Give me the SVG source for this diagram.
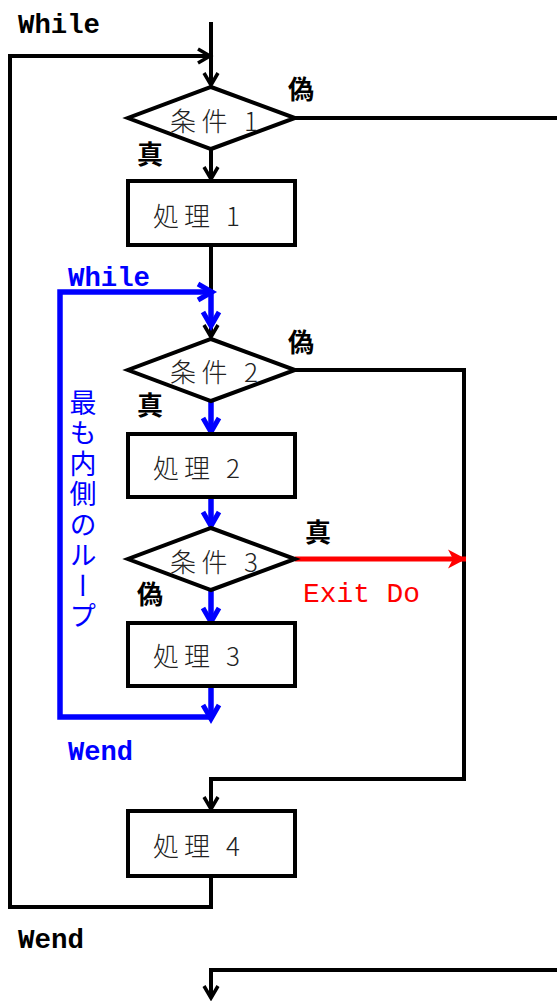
<svg xmlns="http://www.w3.org/2000/svg" width="557" height="1001" viewBox="0 0 557 1001">
  <style>
    .wire { fill: none; stroke: #000; stroke-width: 4; stroke-linejoin: miter; }
    .inner { fill: none; stroke: #0000ff; stroke-width: 5.5; stroke-linejoin: miter; }
    .exit { fill: none; stroke: #ff0000; stroke-width: 5; }
    .shape { fill: #fff; stroke: #000; stroke-width: 4; stroke-linejoin: miter; }
    .label { font-family: "Noto Sans CJK JP", sans-serif; font-size: 26px; font-weight: 300; fill: #222; dominant-baseline: central; }
    .tf { font-family: "Noto Sans CJK JP", sans-serif; font-size: 26px; font-weight: bold; fill: #000; text-anchor: middle; dominant-baseline: central; }
    .kw { font-family: "Liberation Mono", monospace; font-size: 27px; font-weight: bold; }
    .kw-exit { font-family: "Liberation Mono", monospace; font-size: 27px; font-weight: normal; fill: #ff0000; }
  </style>
  <defs>
    <marker id="arrow-black" markerUnits="userSpaceOnUse" markerWidth="20" markerHeight="20" refX="14" refY="9" orient="auto" overflow="visible">
      <path d="M2,2 L14,9 L2,16" fill="none" stroke="#000" stroke-width="3.5"/>
    </marker>
    <marker id="arrow-blue" markerUnits="userSpaceOnUse" markerWidth="22" markerHeight="22" refX="16" refY="10" orient="auto" overflow="visible">
      <path d="M2,2 L16,10 L2,18" fill="none" stroke="#0000ff" stroke-width="5"/>
    </marker>
    <marker id="arrow-red" markerUnits="userSpaceOnUse" markerWidth="22" markerHeight="22" refX="18" refY="10" orient="auto" overflow="visible">
      <path d="M0,0.5 L18,10 L0,19.5 L5,10 Z" fill="#ff0000"/>
    </marker>
  </defs>

  <!-- connectors -->
  <g id="connectors">
    <path class="wire" d="M211,22 V85" marker-end="url(#arrow-black)"/>
    <path class="wire" d="M211,876 V907 H10 V56 H210" marker-end="url(#arrow-black)"/>
    <path class="wire" d="M211,149 V179" marker-end="url(#arrow-black)"/>
    <path class="wire" d="M211,245 V337" marker-end="url(#arrow-black)"/>
    <path class="wire" d="M295,118 H557"/>
    <path class="wire" d="M295,370 H464 V779 H211 V809" marker-end="url(#arrow-black)"/>
    <path class="wire" d="M557,970 H211 V998" marker-end="url(#arrow-black)"/>

    <path class="inner" d="M213,717 H60 V292 H212" marker-end="url(#arrow-blue)"/>
    <path class="inner" d="M211,292 V326" marker-end="url(#arrow-blue)"/>
    <path class="inner" d="M211,401 V432" marker-end="url(#arrow-blue)"/>
    <path class="inner" d="M211,497 V526" marker-end="url(#arrow-blue)"/>
    <path class="inner" d="M211,590 V622" marker-end="url(#arrow-blue)"/>
    <path class="inner" d="M211,686 V719" marker-end="url(#arrow-blue)"/>

    <path class="exit" d="M295,559 H466" marker-end="url(#arrow-red)"/>
  </g>

  <!-- decisions and processes -->
  <g id="cond1">
    <polygon class="shape" points="211,87 295,118 211,149 128,118"/>
    <text class="label" x="170" y="119" textLength="88" lengthAdjust="spacing">条件 1</text>
  </g>
  <g id="proc1">
    <rect class="shape" x="128" y="181" width="167" height="64"/>
    <text class="label" x="153" y="214" textLength="87" lengthAdjust="spacing">処理 1</text>
  </g>
  <g id="cond2">
    <polygon class="shape" points="211,339 295,370 211,401 128,370"/>
    <text class="label" x="170" y="370" textLength="88" lengthAdjust="spacing">条件 2</text>
  </g>
  <g id="proc2">
    <rect class="shape" x="128" y="434" width="167" height="63"/>
    <text class="label" x="153" y="466" textLength="87" lengthAdjust="spacing">処理 2</text>
  </g>
  <g id="cond3">
    <polygon class="shape" points="211,528 295,559 211,590 128,559"/>
    <text class="label" x="170" y="560" textLength="88" lengthAdjust="spacing">条件 3</text>
  </g>
  <g id="proc3">
    <rect class="shape" x="128" y="623" width="167" height="63"/>
    <text class="label" x="153" y="654" textLength="87" lengthAdjust="spacing">処理 3</text>
  </g>
  <g id="proc4">
    <rect class="shape" x="128" y="811" width="167" height="65"/>
    <text class="label" x="153" y="844" textLength="87" lengthAdjust="spacing">処理 4</text>
  </g>

  <!-- branch labels -->
  <g id="branch-labels">
    <text class="tf" x="301" y="87">偽</text>
    <text class="tf" x="150" y="152">真</text>
    <text class="tf" x="301" y="340">偽</text>
    <text class="tf" x="150" y="403">真</text>
    <text class="tf" x="318" y="530">真</text>
    <text class="tf" x="150" y="592">偽</text>
  </g>

  <!-- loop keywords -->
  <g id="keywords">
    <text class="kw" x="18" y="33" fill="#000" textLength="82" lengthAdjust="spacingAndGlyphs">While</text>
    <text class="kw" x="18" y="948" fill="#000" textLength="66" lengthAdjust="spacingAndGlyphs">Wend</text>
    <text class="kw" x="68" y="286" fill="#0000ff" textLength="82" lengthAdjust="spacingAndGlyphs">While</text>
    <text class="kw" x="68" y="760" fill="#0000ff" textLength="65" lengthAdjust="spacingAndGlyphs">Wend</text>
    <text class="kw-exit" x="303" y="602" textLength="117" lengthAdjust="spacingAndGlyphs">Exit Do</text>
  </g>

  <!-- inner loop caption -->
  <text x="83" y="389" fill="#0000ff" font-family="'Noto Sans CJK JP', sans-serif" font-size="27" letter-spacing="3.5" style="writing-mode: vertical-rl;">最も内側のループ</text>
</svg>
